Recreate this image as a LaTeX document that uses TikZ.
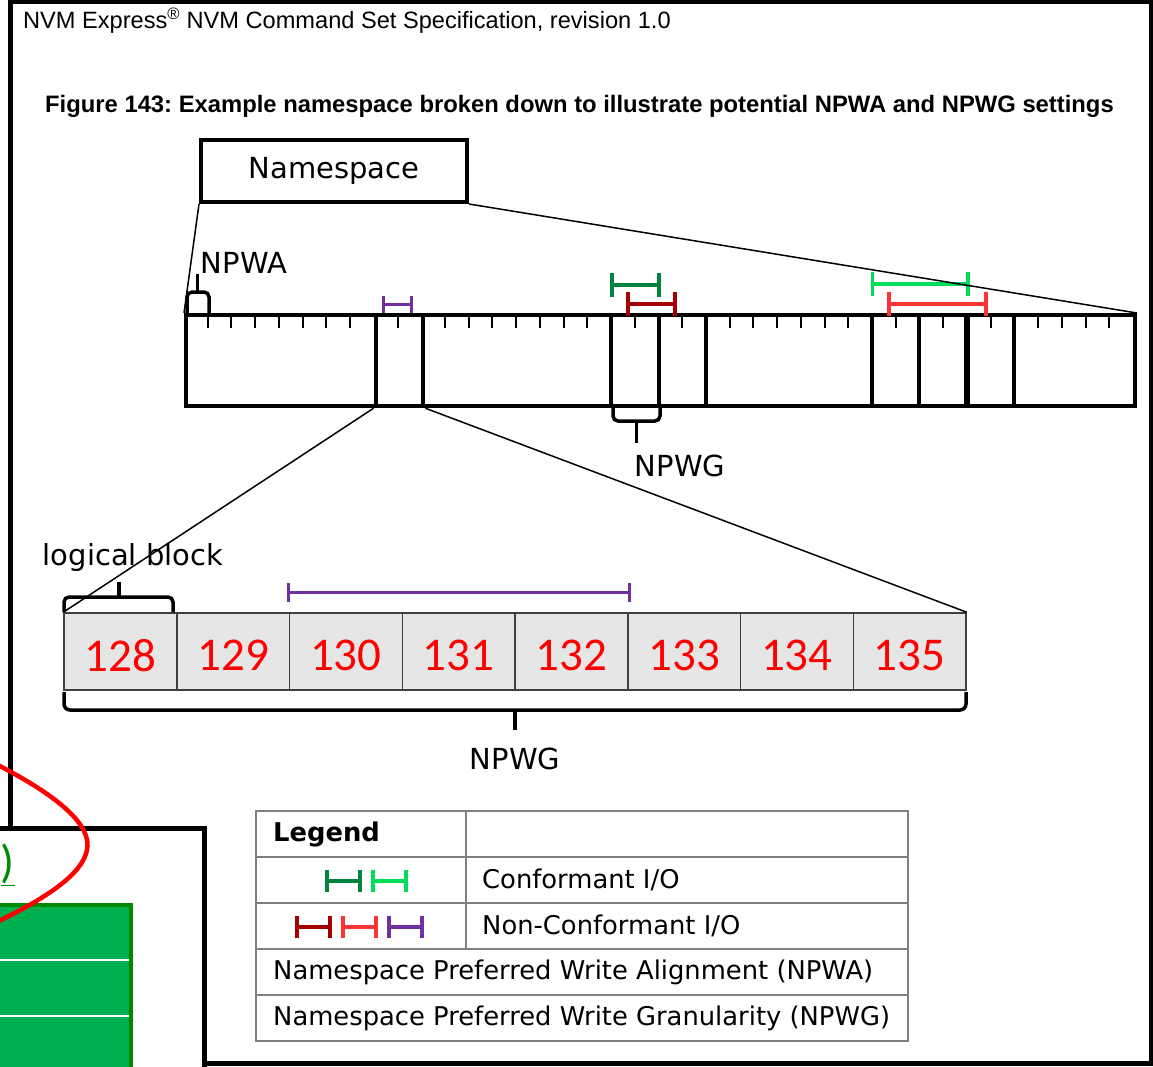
\documentclass[tikz,border=0pt]{standalone}
\usepackage{fontspec}
\setmainfont{Liberation Sans}
\newfontfamily\vfont{DejaVu Sans}
\newfontfamily\cfont{Carlito}
\usetikzlibrary{calc}
\definecolor{dgreen}{HTML}{00843D}
\definecolor{lgreen}{HTML}{00DD5A}
\definecolor{dred}{HTML}{A50000}
\definecolor{lred}{HTML}{FF3535}
\definecolor{npurple}{HTML}{7030A0}
\definecolor{tblgreen}{HTML}{00B050}
\definecolor{tblborder}{HTML}{008A00}
\definecolor{blockfill}{HTML}{E6E6E6}
\definecolor{gridgray}{HTML}{808080}
\frenchspacing
\tikzset{
  frameline/.style={line width=5pt, black},
  thinline/.style={line width=1.5pt, black},
  braceline/.style={line width=3.5pt, black, rounded corners=5pt},
  vtext/.style={font=\vfont\fontsize{29}{34}\selectfont, inner sep=0pt},
  legtext/.style={font=\vfont\fontsize{25.8}{30}\selectfont, inner sep=0pt, anchor=west},
  blk/.style={draw=black!75, line width=1.5pt, fill=blockfill, minimum width=112.75pt,
    minimum height=77pt, inner sep=0pt, text=red, font=\cfont\fontsize{47}{50}\selectfont},
  pics/ibeam/.style args={#1/#2}{code={
    \draw (0,-#2) -- (0,#2) (0,0) -- (#1,0) (#1,-#2) -- (#1,#2);}}
}
\begin{document}
\begin{tikzpicture}[x=1pt,y=-1pt]
\useasboundingbox (0,0) rectangle (1153,1066);
\clip (0,0) rectangle (1153,1066);
\fill[white] (0,0) rectangle (1153,1066);

% outer page frame
\draw[frameline] (10.5,830) -- (10.5,1.5) -- (1151,1.5) -- (1151,1063) -- (204,1063);

% overlapping lower-left window
\fill[white] (-5,828) rectangle (204,1075);
\draw[frameline] (-5,828) -- (204,828) -- (204,1075);
\node[anchor=south east, inner sep=0pt, text=tblborder,
      font=\cfont\fontsize{46}{50}\selectfont] (paren) at (15,886) {\underline{)}};
\filldraw[fill=tblgreen, draw=tblborder, line width=4pt] (-5,905) rectangle (131,1075);
\draw[white, line width=2pt] (-5,960) -- (129,960) (-5,1016) -- (129,1016);

% header and title
\node[anchor=west, inner sep=0pt, font=\fontsize{23.6}{27}\selectfont] (hdr) at (23,21)
  {NVM Express\textsuperscript{®} NVM Command Set Specification, revision 1.0};
\node[anchor=west, inner sep=0pt, font=\bfseries\fontsize{23.8}{27}\selectfont] (ttl) at (45,106)
  {Figure 143: Example namespace broken down to illustrate potential NPWA and NPWG settings};

% namespace box
\node[draw, line width=4pt, minimum width=266pt, minimum height=62pt, inner sep=0pt,
      font=\vfont\fontsize{29}{34}\selectfont] (ns) at (334,171) {Namespace};

% namespace bar
\node[draw, line width=4pt, minimum width=949pt, minimum height=91pt, inner sep=0pt] (bar) at (660.5,360.5) {};
\foreach \i in {1,2,3,4,5,6,7,9,11,12,13,14,15,16,17,19,21,23,24,25,26,27,28,30,32,34,36,37,38,39}
  \draw[line width=2pt] ($(bar.north west)+(\i*23.725,0)$) -- ++(0,15);
\foreach \i in {18,20,22,29,31,35}
  \draw[line width=4pt] ($(bar.north west)+(\i*23.725,0)$) -- ($(bar.south west)+(\i*23.725,0)$);
\draw[line width=5.5pt] ($(bar.north west)+(33*23.725,0)$) -- ($(bar.south west)+(33*23.725,0)$);
\node[draw, line width=4.5pt, minimum width=47.45pt, minimum height=91pt, inner sep=0pt] (hl) at (399.5,360.5) {};

% connector from the namespace box (left)
\draw[thinline] (ns.south west) -- (bar.north west);

% NPWA bracket
\draw[braceline] (187,315) -- (187,292) -- (209,292) -- (209,315);
\draw[line width=3pt] (197,292) -- (197,274);
\node[vtext] (npwa) at (244,263) {NPWA};

% NPWG bracket under bar
\draw[braceline] (613,406) -- (613,421) -- (660,421) -- (660,406);
\draw[line width=3.5pt] (636.5,421) -- (636.5,443);
\node[vtext] (npwg1) at (680,466) {NPWG};

% I/O markers on the bar
\pic[npurple, line width=3.5pt] at (383.5,304.5) {ibeam={28/8.5}};
\pic[dgreen, line width=3.5pt] at (612,285) {ibeam={47/12}};
\pic[dred, line width=3.5pt] at (628,304) {ibeam={47/12}};
\pic[lgreen, line width=3.5pt] at (872.5,284) {ibeam={95.5/12}};
\pic[lred, line width=3.5pt] at (889,304) {ibeam={97/12}};

% connector from the namespace box (right), over the light green marker
\draw[thinline] (ns.south east) -- (bar.north east);

% logical blocks
\foreach \i in {1,...,8}{
  \pgfmathtruncatemacro{\n}{127+\i}
  \node[blk] (b\i) at ({64+(\i-0.5)*112.75},651.5) {\raisebox{-4pt}[\height][\depth]{\n}};
}

% zoom connectors
\draw[thinline] (hl.south west) -- (b1.north west);
\draw[thinline] (hl.south east) -- (b8.north east);

% logical block bracket
\draw[braceline] (64,612) -- (64,597) -- (173,597) -- (173,612);
\draw[line width=3.5pt] (119,597) -- (119,582);
\node[vtext] (lb) at (133,557) {logical block};

% long purple marker
\pic[npurple, line width=3pt] at (288,592.5) {ibeam={341/9.5}};

% NPWG brace under blocks
\draw[braceline, rounded corners=6pt] (64,692) -- (64,710) -- (966,710) -- (966,692);
\draw[line width=3.5pt] (515,710) -- (515,730);
\node[vtext] (npwg2) at (515,759) {NPWG};

% legend table
\node[draw=gridgray, line width=1.5pt, minimum width=652pt, minimum height=230pt, inner sep=0pt] (leg) at (582,926) {};
\foreach \yy in {857,903,949,995}
  \draw[gridgray, line width=1.5pt] (leg.west |- 0,\yy) -- (leg.east |- 0,\yy);
\draw[gridgray, line width=1.5pt] (466,0 |- leg.north) -- (466,949);
\node[legtext, font=\vfont\bfseries\fontsize{25.8}{30}\selectfont] (lg) at (273,834) {Legend};
\node[legtext] (lc) at (482,880) {Conformant I/O};
\node[legtext] (ln) at (482,926) {Non-Conformant I/O};
\node[legtext] (la) at (273,972) {Namespace Preferred Write Alignment (NPWA)};
\node[legtext] (lw) at (273,1018) {Namespace Preferred Write Granularity (NPWG)};
\pic[dgreen, line width=3.5pt] at (327,881) {ibeam={33/11}};
\pic[lgreen, line width=3.5pt] at (373,881) {ibeam={33/11}};
\pic[dred, line width=3.5pt] at (297,927) {ibeam={33/11}};
\pic[lred, line width=3.5pt] at (343,927) {ibeam={33/11}};
\pic[npurple, line width=3.5pt] at (389,927) {ibeam={33/11}};

% red annotation curve
\draw[red, line width=4.5pt] (-20,756) .. controls (62,796) and (92,826) .. (87,850)
  .. controls (82,875) and (45,900) .. (-20,930);
\end{tikzpicture}
\end{document}
